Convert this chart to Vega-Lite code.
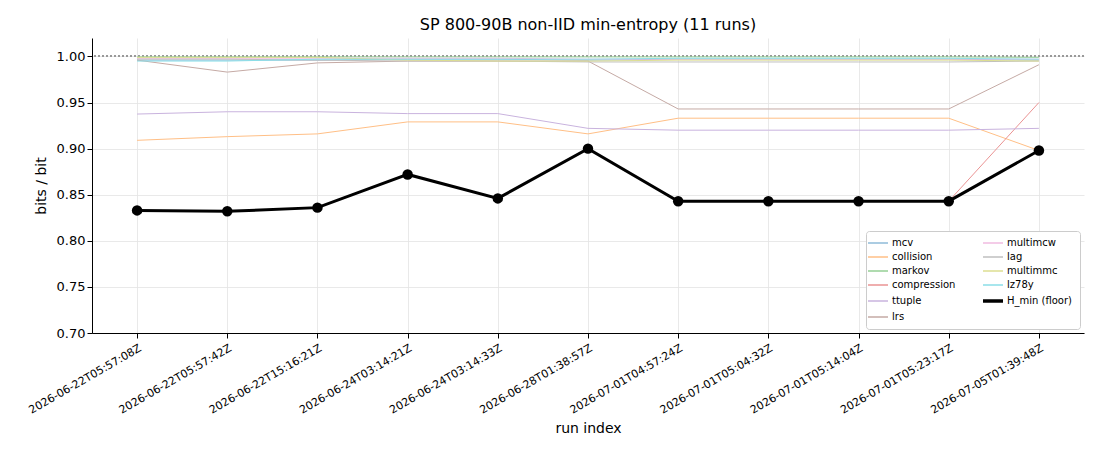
{
  "$schema": "https://vega.github.io/schema/vega-lite/v6.json",
  "autosize": "none",
  "width": 992,
  "height": 295,
  "padding": {"left": 92, "top": 38, "right": 16, "bottom": 117},
  "background": "white",
  "title": {
    "text": "SP 800-90B non-IID min-entropy (11 runs)",
    "font": "DejaVu Sans",
    "fontSize": 16,
    "fontWeight": "normal",
    "color": "black",
    "anchor": "middle",
    "offset": 5
  },
  "data": {
    "values": [
      {"run": "2026-06-22T05:57:08Z", "estimator": "mcv", "value": 0.996},
      {"run": "2026-06-22T05:57:42Z", "estimator": "mcv", "value": 0.996},
      {"run": "2026-06-22T15:16:21Z", "estimator": "mcv", "value": 0.996},
      {"run": "2026-06-24T03:14:21Z", "estimator": "mcv", "value": 0.997},
      {"run": "2026-06-24T03:14:33Z", "estimator": "mcv", "value": 0.997},
      {"run": "2026-06-28T01:38:57Z", "estimator": "mcv", "value": 0.996},
      {"run": "2026-07-01T04:57:24Z", "estimator": "mcv", "value": 0.997},
      {"run": "2026-07-01T05:04:32Z", "estimator": "mcv", "value": 0.997},
      {"run": "2026-07-01T05:14:04Z", "estimator": "mcv", "value": 0.997},
      {"run": "2026-07-01T05:23:17Z", "estimator": "mcv", "value": 0.997},
      {"run": "2026-07-05T01:39:48Z", "estimator": "mcv", "value": 0.996},

      {"run": "2026-06-22T05:57:08Z", "estimator": "collision", "value": 0.909},
      {"run": "2026-06-22T05:57:42Z", "estimator": "collision", "value": 0.913},
      {"run": "2026-06-22T15:16:21Z", "estimator": "collision", "value": 0.916},
      {"run": "2026-06-24T03:14:21Z", "estimator": "collision", "value": 0.929},
      {"run": "2026-06-24T03:14:33Z", "estimator": "collision", "value": 0.929},
      {"run": "2026-06-28T01:38:57Z", "estimator": "collision", "value": 0.916},
      {"run": "2026-07-01T04:57:24Z", "estimator": "collision", "value": 0.933},
      {"run": "2026-07-01T05:04:32Z", "estimator": "collision", "value": 0.933},
      {"run": "2026-07-01T05:14:04Z", "estimator": "collision", "value": 0.933},
      {"run": "2026-07-01T05:23:17Z", "estimator": "collision", "value": 0.933},
      {"run": "2026-07-05T01:39:48Z", "estimator": "collision", "value": 0.898},

      {"run": "2026-06-22T05:57:08Z", "estimator": "markov", "value": 0.9995},
      {"run": "2026-06-22T05:57:42Z", "estimator": "markov", "value": 0.9995},
      {"run": "2026-06-22T15:16:21Z", "estimator": "markov", "value": 0.9995},
      {"run": "2026-06-24T03:14:21Z", "estimator": "markov", "value": 0.9995},
      {"run": "2026-06-24T03:14:33Z", "estimator": "markov", "value": 0.9995},
      {"run": "2026-06-28T01:38:57Z", "estimator": "markov", "value": 0.9995},
      {"run": "2026-07-01T04:57:24Z", "estimator": "markov", "value": 0.9995},
      {"run": "2026-07-01T05:04:32Z", "estimator": "markov", "value": 0.9995},
      {"run": "2026-07-01T05:14:04Z", "estimator": "markov", "value": 0.9995},
      {"run": "2026-07-01T05:23:17Z", "estimator": "markov", "value": 0.9995},
      {"run": "2026-07-05T01:39:48Z", "estimator": "markov", "value": 0.9990},

      {"run": "2026-06-22T05:57:08Z", "estimator": "compression", "value": 0.833},
      {"run": "2026-06-22T05:57:42Z", "estimator": "compression", "value": 0.832},
      {"run": "2026-06-22T15:16:21Z", "estimator": "compression", "value": 0.836},
      {"run": "2026-06-24T03:14:21Z", "estimator": "compression", "value": 0.872},
      {"run": "2026-06-24T03:14:33Z", "estimator": "compression", "value": 0.846},
      {"run": "2026-06-28T01:38:57Z", "estimator": "compression", "value": 0.900},
      {"run": "2026-07-01T04:57:24Z", "estimator": "compression", "value": 0.843},
      {"run": "2026-07-01T05:04:32Z", "estimator": "compression", "value": 0.843},
      {"run": "2026-07-01T05:14:04Z", "estimator": "compression", "value": 0.843},
      {"run": "2026-07-01T05:23:17Z", "estimator": "compression", "value": 0.843},
      {"run": "2026-07-05T01:39:48Z", "estimator": "compression", "value": 0.950},

      {"run": "2026-06-22T05:57:08Z", "estimator": "ttuple", "value": 0.9375},
      {"run": "2026-06-22T05:57:42Z", "estimator": "ttuple", "value": 0.940},
      {"run": "2026-06-22T15:16:21Z", "estimator": "ttuple", "value": 0.940},
      {"run": "2026-06-24T03:14:21Z", "estimator": "ttuple", "value": 0.938},
      {"run": "2026-06-24T03:14:33Z", "estimator": "ttuple", "value": 0.938},
      {"run": "2026-06-28T01:38:57Z", "estimator": "ttuple", "value": 0.922},
      {"run": "2026-07-01T04:57:24Z", "estimator": "ttuple", "value": 0.920},
      {"run": "2026-07-01T05:04:32Z", "estimator": "ttuple", "value": 0.920},
      {"run": "2026-07-01T05:14:04Z", "estimator": "ttuple", "value": 0.920},
      {"run": "2026-07-01T05:23:17Z", "estimator": "ttuple", "value": 0.920},
      {"run": "2026-07-05T01:39:48Z", "estimator": "ttuple", "value": 0.922},

      {"run": "2026-06-22T05:57:08Z", "estimator": "lrs", "value": 0.996},
      {"run": "2026-06-22T05:57:42Z", "estimator": "lrs", "value": 0.983},
      {"run": "2026-06-22T15:16:21Z", "estimator": "lrs", "value": 0.993},
      {"run": "2026-06-24T03:14:21Z", "estimator": "lrs", "value": 0.995},
      {"run": "2026-06-24T03:14:33Z", "estimator": "lrs", "value": 0.995},
      {"run": "2026-06-28T01:38:57Z", "estimator": "lrs", "value": 0.995},
      {"run": "2026-07-01T04:57:24Z", "estimator": "lrs", "value": 0.943},
      {"run": "2026-07-01T05:04:32Z", "estimator": "lrs", "value": 0.943},
      {"run": "2026-07-01T05:14:04Z", "estimator": "lrs", "value": 0.943},
      {"run": "2026-07-01T05:23:17Z", "estimator": "lrs", "value": 0.943},
      {"run": "2026-07-05T01:39:48Z", "estimator": "lrs", "value": 0.991},

      {"run": "2026-06-22T05:57:08Z", "estimator": "multimcw", "value": 0.998},
      {"run": "2026-06-22T05:57:42Z", "estimator": "multimcw", "value": 0.998},
      {"run": "2026-06-22T15:16:21Z", "estimator": "multimcw", "value": 0.998},
      {"run": "2026-06-24T03:14:21Z", "estimator": "multimcw", "value": 0.998},
      {"run": "2026-06-24T03:14:33Z", "estimator": "multimcw", "value": 0.998},
      {"run": "2026-06-28T01:38:57Z", "estimator": "multimcw", "value": 0.997},
      {"run": "2026-07-01T04:57:24Z", "estimator": "multimcw", "value": 0.997},
      {"run": "2026-07-01T05:04:32Z", "estimator": "multimcw", "value": 0.997},
      {"run": "2026-07-01T05:14:04Z", "estimator": "multimcw", "value": 0.997},
      {"run": "2026-07-01T05:23:17Z", "estimator": "multimcw", "value": 0.997},
      {"run": "2026-07-05T01:39:48Z", "estimator": "multimcw", "value": 0.997},

      {"run": "2026-06-22T05:57:08Z", "estimator": "lag", "value": 0.997},
      {"run": "2026-06-22T05:57:42Z", "estimator": "lag", "value": 0.997},
      {"run": "2026-06-22T15:16:21Z", "estimator": "lag", "value": 0.996},
      {"run": "2026-06-24T03:14:21Z", "estimator": "lag", "value": 0.995},
      {"run": "2026-06-24T03:14:33Z", "estimator": "lag", "value": 0.995},
      {"run": "2026-06-28T01:38:57Z", "estimator": "lag", "value": 0.994},
      {"run": "2026-07-01T04:57:24Z", "estimator": "lag", "value": 0.994},
      {"run": "2026-07-01T05:04:32Z", "estimator": "lag", "value": 0.994},
      {"run": "2026-07-01T05:14:04Z", "estimator": "lag", "value": 0.994},
      {"run": "2026-07-01T05:23:17Z", "estimator": "lag", "value": 0.994},
      {"run": "2026-07-05T01:39:48Z", "estimator": "lag", "value": 0.995},

      {"run": "2026-06-22T05:57:08Z", "estimator": "multimmc", "value": 0.999},
      {"run": "2026-06-22T05:57:42Z", "estimator": "multimmc", "value": 0.999},
      {"run": "2026-06-22T15:16:21Z", "estimator": "multimmc", "value": 0.999},
      {"run": "2026-06-24T03:14:21Z", "estimator": "multimmc", "value": 0.996},
      {"run": "2026-06-24T03:14:33Z", "estimator": "multimmc", "value": 0.995},
      {"run": "2026-06-28T01:38:57Z", "estimator": "multimmc", "value": 0.995},
      {"run": "2026-07-01T04:57:24Z", "estimator": "multimmc", "value": 0.996},
      {"run": "2026-07-01T05:04:32Z", "estimator": "multimmc", "value": 0.996},
      {"run": "2026-07-01T05:14:04Z", "estimator": "multimmc", "value": 0.996},
      {"run": "2026-07-01T05:23:17Z", "estimator": "multimmc", "value": 0.996},
      {"run": "2026-07-05T01:39:48Z", "estimator": "multimmc", "value": 0.995},

      {"run": "2026-06-22T05:57:08Z", "estimator": "lz78y", "value": 0.995},
      {"run": "2026-06-22T05:57:42Z", "estimator": "lz78y", "value": 0.995},
      {"run": "2026-06-22T15:16:21Z", "estimator": "lz78y", "value": 0.997},
      {"run": "2026-06-24T03:14:21Z", "estimator": "lz78y", "value": 0.997},
      {"run": "2026-06-24T03:14:33Z", "estimator": "lz78y", "value": 0.997},
      {"run": "2026-06-28T01:38:57Z", "estimator": "lz78y", "value": 0.997},
      {"run": "2026-07-01T04:57:24Z", "estimator": "lz78y", "value": 0.998},
      {"run": "2026-07-01T05:04:32Z", "estimator": "lz78y", "value": 0.998},
      {"run": "2026-07-01T05:14:04Z", "estimator": "lz78y", "value": 0.998},
      {"run": "2026-07-01T05:23:17Z", "estimator": "lz78y", "value": 0.998},
      {"run": "2026-07-05T01:39:48Z", "estimator": "lz78y", "value": 0.997},

      {"run": "2026-06-22T05:57:08Z", "estimator": "H_min (floor)", "value": 0.833},
      {"run": "2026-06-22T05:57:42Z", "estimator": "H_min (floor)", "value": 0.832},
      {"run": "2026-06-22T15:16:21Z", "estimator": "H_min (floor)", "value": 0.836},
      {"run": "2026-06-24T03:14:21Z", "estimator": "H_min (floor)", "value": 0.872},
      {"run": "2026-06-24T03:14:33Z", "estimator": "H_min (floor)", "value": 0.846},
      {"run": "2026-06-28T01:38:57Z", "estimator": "H_min (floor)", "value": 0.900},
      {"run": "2026-07-01T04:57:24Z", "estimator": "H_min (floor)", "value": 0.843},
      {"run": "2026-07-01T05:04:32Z", "estimator": "H_min (floor)", "value": 0.843},
      {"run": "2026-07-01T05:14:04Z", "estimator": "H_min (floor)", "value": 0.843},
      {"run": "2026-07-01T05:23:17Z", "estimator": "H_min (floor)", "value": 0.843},
      {"run": "2026-07-05T01:39:48Z", "estimator": "H_min (floor)", "value": 0.898}
    ]
  },
  "encoding": {
    "x": {
      "field": "run",
      "type": "ordinal",
      "sort": null,
      "scale": {"type": "point", "padding": 0.5},
      "title": "run index",
      "axis": {
        "labelAngle": -30,
        "labelAlign": "right",
        "labelBaseline": "top",
        "labelFontSize": 11,
        "labelPadding": 4,
        "titleFontSize": 14,
        "titlePadding": 6,
        "grid": true
      }
    },
    "y": {
      "field": "value",
      "type": "quantitative",
      "scale": {"domain": [0.7, 1.02], "nice": false, "zero": false},
      "title": "bits / bit",
      "axis": {
        "values": [0.7, 0.75, 0.8, 0.85, 0.9, 0.95, 1.0],
        "format": ".2f",
        "labelFontSize": 13,
        "titleFontSize": 14,
        "titlePadding": 8,
        "grid": true
      }
    }
  },
  "layer": [
    {
      "mark": {"type": "rule", "color": "#999999", "strokeDash": [2, 2], "strokeWidth": 1},
      "encoding": {"y": {"datum": 1.0}, "x": null}
    },
    {
      "transform": [{"filter": "datum.estimator !== 'H_min (floor)'"}],
      "mark": {"type": "line", "strokeWidth": 1},
      "encoding": {
        "color": {
          "field": "estimator",
          "type": "nominal",
          "scale": {
            "domain": ["mcv", "collision", "markov", "compression", "ttuple", "lrs", "multimcw", "lag", "multimmc", "lz78y", "H_min (floor)"],
            "range": ["#8fbbd9", "#ffbf86", "#95cf95", "#ea9393", "#c9b3de", "#c5aaa5", "#f1bbe0", "#bfbfbf", "#ddde90", "#8bdee7", "#000000"]
          },
          "legend": {
            "encode": {
              "symbols": {
                "update": {
                  "strokeWidth": {"signal": "datum.value === 'H_min (floor)' ? 3.5 : 1.5"}
                }
              }
            }
          }
        },
        "detail": {"field": "estimator"}
      }
    },
    {
      "transform": [{"filter": "datum.estimator === 'H_min (floor)'"}],
      "mark": {"type": "line", "strokeWidth": 3, "point": {"filled": true, "size": 110, "color": "black"}},
      "encoding": {
        "color": {"field": "estimator", "type": "nominal"}
      }
    }
  ],
  "resolve": {"scale": {"color": "shared"}},
  "config": {
    "font": "DejaVu Sans",
    "view": {"stroke": null},
    "axis": {
      "domainColor": "black",
      "domainWidth": 1,
      "tickColor": "black",
      "tickSize": 5,
      "labelColor": "black",
      "titleColor": "black",
      "titleFontWeight": "normal",
      "gridColor": "#e3e3e3",
      "gridWidth": 0.8
    },
    "legend": {
      "orient": "bottom-right",
      "offset": 4,
      "title": null,
      "columns": 2,
      "columnPadding": 20,
      "rowPadding": 4,
      "labelFontSize": 10,
      "labelOffset": 9,
      "labelColor": "black",
      "symbolType": "stroke",
      "symbolSize": 400,
      "symbolStrokeWidth": 1.5,
      "fillColor": "white",
      "strokeColor": "#cccccc",
      "cornerRadius": 3,
      "padding": 7
    }
  }
}
